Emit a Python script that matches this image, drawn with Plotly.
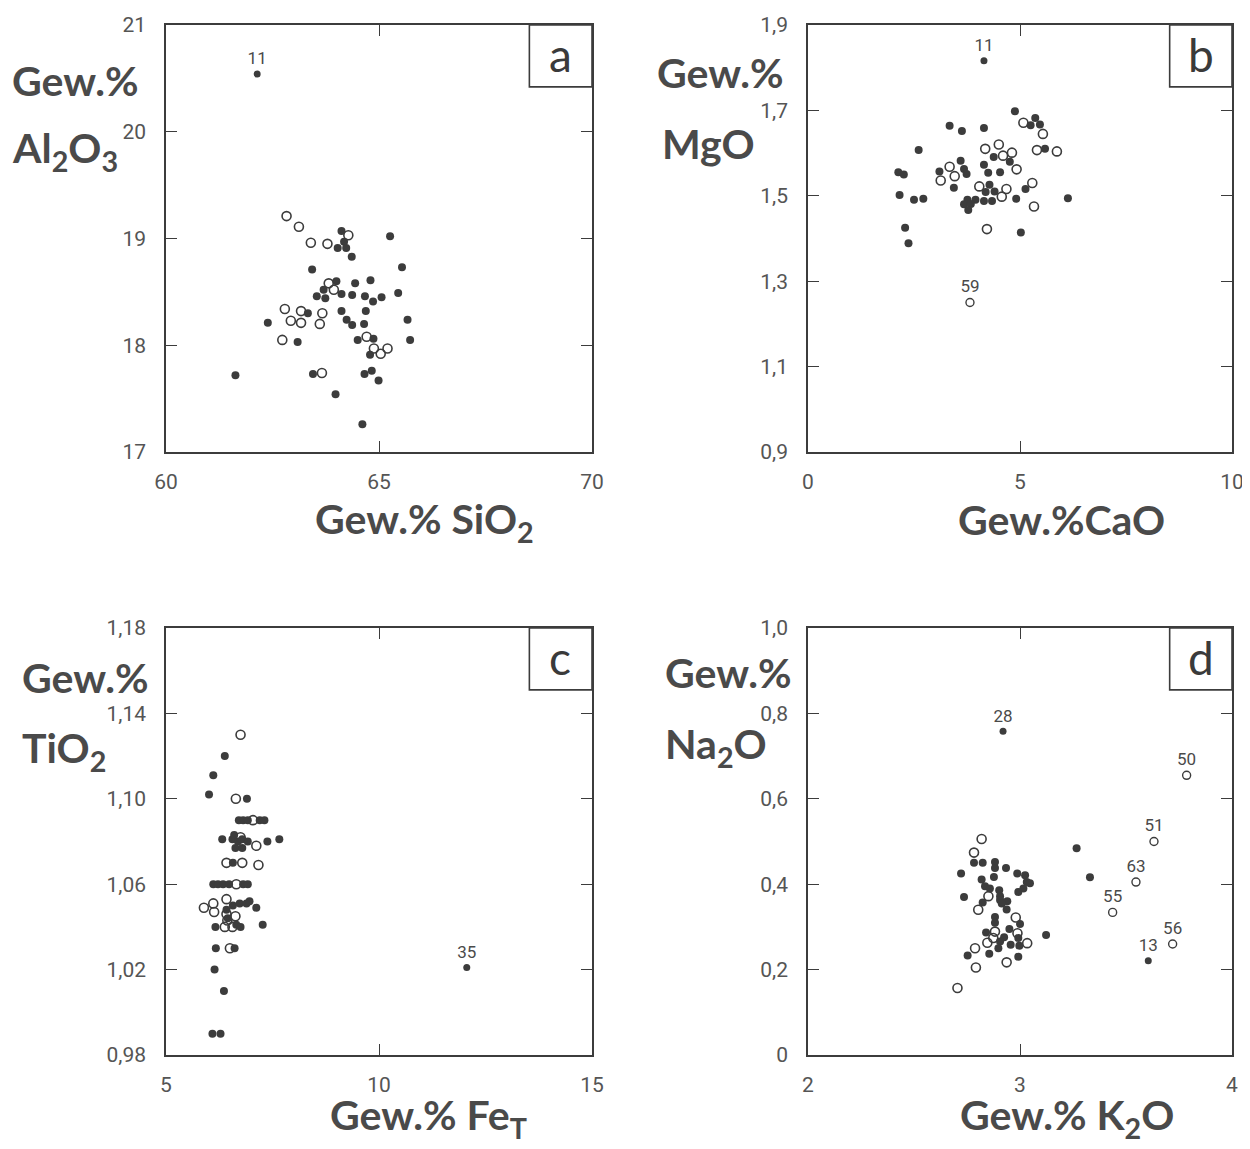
import plotly.graph_objects as go

# ---------------- data ----------------
# Panel a: SiO2 (x) vs Al2O3 (y)
a_fill_x = [64.12, 64.18, 64.03, 64.23, 64.36, 65.26, 65.54, 63.43, 64.00, 64.44, 64.80, 63.70, 63.54, 63.74,
            64.12, 64.37, 64.67, 64.86, 65.06, 65.45, 63.33, 64.12, 64.69, 64.24, 64.37, 64.65, 65.67, 62.39,
            63.09, 64.50, 64.87, 65.73, 64.79, 63.45, 64.66, 64.83, 64.99, 61.63, 63.98, 64.61]
a_fill_y = [19.07, 18.97, 18.91, 18.91, 18.83, 19.02, 18.73, 18.71, 18.60, 18.58, 18.61, 18.52, 18.46, 18.44,
            18.48, 18.47, 18.46, 18.41, 18.45, 18.49, 18.30, 18.32, 18.32, 18.24, 18.19, 18.20, 18.24, 18.21,
            18.03, 18.05, 18.06, 18.05, 17.91, 17.73, 17.73, 17.76, 17.67, 17.72, 17.54, 17.26]
a_open_x = [62.83, 63.12, 63.40, 63.79, 64.28, 63.82, 63.94, 62.79, 63.17, 63.67, 62.93, 63.17, 63.61, 62.73,
            64.71, 64.88, 65.04, 65.20, 63.66]
a_open_y = [19.21, 19.11, 18.96, 18.95, 19.03, 18.58, 18.52, 18.34, 18.32, 18.30, 18.23, 18.21, 18.20, 18.05,
            18.08, 17.97, 17.92, 17.97, 17.74]
a_lab_x = [62.14]
a_lab_y = [20.54]
a_lab_t = ["11"]
a_lab_open = [False]

# Panel b: CaO (x) vs MgO (y)
b_fill_x = [4.88, 5.36, 5.25, 5.47, 3.34, 3.63, 4.15, 5.59, 2.61, 4.38, 4.76, 3.60, 4.15, 3.68, 3.74, 4.25,
            4.53, 3.10, 2.13, 2.26, 3.44, 4.28, 4.19, 4.40, 5.13, 2.16, 2.50, 2.72, 3.76, 3.95, 3.68, 3.84,
            3.78, 4.15, 4.34, 4.91, 6.13, 2.29, 2.37, 5.02]
b_fill_y = [1.698, 1.682, 1.665, 1.667, 1.664, 1.652, 1.659, 1.610, 1.607, 1.591, 1.580, 1.582, 1.573, 1.563,
            1.551, 1.554, 1.555, 1.557, 1.555, 1.550, 1.519, 1.526, 1.509, 1.510, 1.516, 1.502, 1.491, 1.493,
            1.491, 1.491, 1.480, 1.481, 1.467, 1.488, 1.488, 1.493, 1.494, 1.425, 1.389, 1.414]
b_open_x = [5.08, 5.54, 4.18, 4.50, 4.60, 4.81, 5.40, 5.87, 3.34, 3.46, 3.13, 4.92, 4.04, 4.68, 4.57, 5.29,
            5.33, 4.22]
b_open_y = [1.671, 1.645, 1.610, 1.620, 1.594, 1.601, 1.607, 1.604, 1.568, 1.546, 1.536, 1.562, 1.522, 1.516,
            1.498, 1.530, 1.475, 1.422]
b_lab_x = [4.15, 3.82]
b_lab_y = [1.816, 1.250]
b_lab_t = ["11", "59"]
b_lab_open = [False, True]

# Panel c: Fe_T (x) vs TiO2 (y)
c_fill_x = [6.38, 6.11, 6.01, 6.90, 6.71, 6.81, 6.92, 7.20, 7.31, 6.32, 6.56, 6.69, 6.79, 6.92, 7.38, 7.66,
            6.63, 6.79, 6.60, 6.57, 6.11, 6.22, 6.34, 6.48, 6.81, 6.92, 6.42, 6.57, 6.73, 6.89, 6.96, 7.12,
            6.45, 6.16, 6.65, 6.75, 7.27, 6.17, 6.61, 6.14, 6.36, 6.09, 6.28]
c_fill_y = [1.120, 1.111, 1.102, 1.100, 1.090, 1.090, 1.090, 1.090, 1.090, 1.081, 1.081, 1.080, 1.081, 1.080,
            1.080, 1.081, 1.077, 1.077, 1.083, 1.070, 1.060, 1.060, 1.060, 1.060, 1.060, 1.060, 1.048, 1.050,
            1.051, 1.051, 1.052, 1.049, 1.044, 1.040, 1.041, 1.040, 1.041, 1.030, 1.030, 1.020, 1.010, 0.990,
            0.990]
c_open_x = [6.75, 6.64, 7.04, 6.75, 7.12, 6.42, 6.79, 7.17, 6.65, 5.89, 6.11, 6.13, 6.42, 6.42, 6.44, 6.63,
            6.38, 6.56, 6.50]
c_open_y = [1.130, 1.100, 1.090, 1.082, 1.078, 1.070, 1.070, 1.069, 1.060, 1.049, 1.051, 1.047, 1.053, 1.046,
            1.043, 1.045, 1.040, 1.040, 1.030]
c_lab_x = [12.06]
c_lab_y = [1.021]
c_lab_t = ["35"]
c_lab_open = [False]

# Panel d: K2O (x) vs Na2O (y)
d_fill_x = [2.783, 2.824, 2.882, 2.882, 2.934, 2.722, 2.877, 2.987, 3.024, 2.819, 3.032, 3.047, 2.835, 2.858,
            3.016, 2.902, 2.992, 2.736, 2.906, 2.906, 2.940, 2.824, 2.914, 2.937, 2.882, 2.882, 3.000, 2.950,
            2.840, 2.925, 2.906, 2.992, 2.956, 2.997, 2.898, 2.855, 2.753, 2.992, 3.123, 3.267, 3.330]
d_fill_y = [0.450, 0.450, 0.452, 0.438, 0.438, 0.425, 0.417, 0.425, 0.421, 0.411, 0.405, 0.402, 0.395, 0.390,
            0.390, 0.386, 0.382, 0.370, 0.372, 0.363, 0.360, 0.357, 0.355, 0.341, 0.323, 0.310, 0.307, 0.295,
            0.287, 0.276, 0.266, 0.274, 0.258, 0.256, 0.250, 0.237, 0.233, 0.230, 0.281, 0.484, 0.416]
d_open_x = [2.819, 2.783, 2.851, 2.803, 2.980, 2.882, 2.988, 2.874, 2.846, 3.034, 2.788, 2.792, 2.937, 2.705]
d_open_y = [0.506, 0.474, 0.372, 0.340, 0.322, 0.289, 0.285, 0.274, 0.263, 0.262, 0.250, 0.205, 0.217, 0.157]
d_lab_x = [2.920, 3.786, 3.632, 3.547, 3.437, 3.720, 3.605]
d_lab_y = [0.758, 0.655, 0.500, 0.405, 0.334, 0.260, 0.221]
d_lab_t = ["28", "50", "51", "63", "55", "56", "13"]
d_lab_open = [False, True, True, True, True, True, False]

# axis ticks
a_xt = [60, 65, 70]; a_xl = ["60", "65", "70"]
a_yt = [17, 18, 19, 20, 21]; a_yl = ["17", "18", "19", "20", "21"]
b_xt = [0, 5, 10]; b_xl = ["0", "5", "10"]
b_yt = [0.9, 1.1, 1.3, 1.5, 1.7, 1.9]; b_yl = ["0,9", "1,1", "1,3", "1,5", "1,7", "1,9"]
c_xt = [5, 10, 15]; c_xl = ["5", "10", "15"]
c_yt = [0.98, 1.02, 1.06, 1.10, 1.14, 1.18]; c_yl = ["0,98", "1,02", "1,06", "1,10", "1,14", "1,18"]
d_xt = [2, 3, 4]; d_xl = ["2", "3", "4"]
d_yt = [0, 0.2, 0.4, 0.6, 0.8, 1.0]; d_yl = ["0", "0,2", "0,4", "0,6", "0,8", "1,0"]

panel_letters = ["a", "b", "c", "d"]
x_titles = ["Gew.% SiO<sub>2</sub>", "Gew.%CaO", "Gew.% Fe<sub>T</sub>", "Gew.% K<sub>2</sub>O"]
y_titles = ["Al<sub>2</sub>O<sub>3</sub>", "MgO", "TiO<sub>2</sub>", "Na<sub>2</sub>O"]

# ---------------- layout helpers ----------------
OFF = 8  # page body margin
W, H = 1250 - 2 * OFF, 1149 - 2 * OFF
def px(x): return (x - OFF) / W
def py(y): return 1 - (y - OFF) / H

INK = "#3c3c3c"
TICKFONT = dict(family="Roboto, DejaVu Sans", size=21, color="#555555")
TITLEFONT = dict(family="Lato, Open Sans, DejaVu Sans", size=41, color="#4a4a4a", weight="bold")

fig = go.Figure()

panels = [
    dict(fx=a_fill_x, fy=a_fill_y, ox=a_open_x, oy=a_open_y, lx=a_lab_x, ly=a_lab_y, lt=a_lab_t, lo=a_lab_open,
         xr=[60, 70], yr=[17, 21], xt=a_xt, xl=a_xl, yt=a_yt, yl=a_yl,
         dom_x=(166, 592), dom_y=(25, 452)),
    dict(fx=b_fill_x, fy=b_fill_y, ox=b_open_x, oy=b_open_y, lx=b_lab_x, ly=b_lab_y, lt=b_lab_t, lo=b_lab_open,
         xr=[0, 10], yr=[0.9, 1.9], xt=b_xt, xl=b_xl, yt=b_yt, yl=b_yl,
         dom_x=(808, 1232), dom_y=(25, 452)),
    dict(fx=c_fill_x, fy=c_fill_y, ox=c_open_x, oy=c_open_y, lx=c_lab_x, ly=c_lab_y, lt=c_lab_t, lo=c_lab_open,
         xr=[5, 15], yr=[0.98, 1.18], xt=c_xt, xl=c_xl, yt=c_yt, yl=c_yl,
         dom_x=(166, 592), dom_y=(628, 1055)),
    dict(fx=d_fill_x, fy=d_fill_y, ox=d_open_x, oy=d_open_y, lx=d_lab_x, ly=d_lab_y, lt=d_lab_t, lo=d_lab_open,
         xr=[2, 4], yr=[0, 1.0], xt=d_xt, xl=d_xl, yt=d_yt, yl=d_yl,
         dom_x=(808, 1232), dom_y=(628, 1055)),
]

layout_axes = {}
shapes = []
annotations = []

for i, p in enumerate(panels):
    n = "" if i == 0 else str(i + 1)
    xa, ya = "x" + n, "y" + n
    fig.add_trace(go.Scatter(x=p["fx"], y=p["fy"], mode="markers", xaxis=xa, yaxis=ya,
                             marker=dict(size=8, color=INK), showlegend=False))
    fig.add_trace(go.Scatter(x=p["ox"], y=p["oy"], mode="markers", xaxis=xa, yaxis=ya,
                             marker=dict(size=9, symbol="circle-open", color=INK, line=dict(width=1.6, color=INK)),
                             showlegend=False))
    lfx = [x for x, o in zip(p["lx"], p["lo"]) if not o]
    lfy = [y for y, o in zip(p["ly"], p["lo"]) if not o]
    lft = [t for t, o in zip(p["lt"], p["lo"]) if not o]
    lox = [x for x, o in zip(p["lx"], p["lo"]) if o]
    loy = [y for y, o in zip(p["ly"], p["lo"]) if o]
    lot = [t for t, o in zip(p["lt"], p["lo"]) if o]
    textfont = dict(family="Roboto, DejaVu Sans", size=17, color="#4a4a4a")
    if lfx:
        fig.add_trace(go.Scatter(x=lfx, y=lfy, text=lft, mode="markers+text", textposition="top center",
                                 xaxis=xa, yaxis=ya, textfont=textfont,
                                 marker=dict(size=7, color=INK), showlegend=False))
    if lox:
        fig.add_trace(go.Scatter(x=lox, y=loy, text=lot, mode="markers+text", textposition="top center",
                                 xaxis=xa, yaxis=ya, textfont=textfont,
                                 marker=dict(size=8, symbol="circle-open", color=INK,
                                             line=dict(width=1.4, color=INK)), showlegend=False))

    common = dict(showgrid=False, zeroline=False, showline=True, linecolor=INK, linewidth=1.6,
                  mirror="ticks", ticks="inside", ticklen=11, tickwidth=1.4, tickcolor=INK,
                  tickfont=TICKFONT, ticklabeloverflow="allow")
    layout_axes["xaxis" + n] = dict(common, domain=[px(p["dom_x"][0]), px(p["dom_x"][1])], range=p["xr"],
                                    tickvals=p["xt"], ticktext=p["xl"], anchor=ya, ticklabelstandoff=10)
    layout_axes["yaxis" + n] = dict(common, domain=[py(p["dom_y"][1]), py(p["dom_y"][0])], range=p["yr"],
                                    tickvals=p["yt"], ticktext=p["yl"], anchor=xa, ticklabelstandoff=14)

    # panel letter box in top-right corner
    shapes.append(dict(type="rect", xref=xa + " domain", yref=ya + " domain", x0=0.853, x1=1.0, y0=0.855, y1=1.0,
                       line=dict(color=INK, width=1.6), fillcolor="white", layer="above"))
    annotations.append(dict(xref=xa + " domain", yref=ya + " domain", x=0.926, y=0.93, text=panel_letters[i],
                            showarrow=False, xanchor="center", yanchor="middle",
                            font=dict(family="Lato, Open Sans, DejaVu Sans", size=46, color="#3a3a3a")))

# axis titles (pixel-placed in paper coordinates)
ytitle_pos = [(10, 80, 10, 150), (655, 73, 660, 143), (20, 677, 20, 750), (663, 672, 663, 746)]
xtitle_pos = [(313, 522), (956, 520), (328, 1117), (958, 1117)]
for i in range(4):
    gx, gy, tx, ty = ytitle_pos[i]
    annotations.append(dict(xref="paper", yref="paper", x=px(gx), y=py(gy), text="Gew.%",
                            showarrow=False, xanchor="left", yanchor="middle", font=TITLEFONT))
    annotations.append(dict(xref="paper", yref="paper", x=px(tx), y=py(ty), text=y_titles[i],
                            showarrow=False, xanchor="left", yanchor="middle", font=TITLEFONT))
    xx, xy = xtitle_pos[i]
    annotations.append(dict(xref="paper", yref="paper", x=px(xx), y=py(xy), text=x_titles[i],
                            showarrow=False, xanchor="left", yanchor="middle", font=TITLEFONT))

fig.update_layout(width=W, height=H, margin=dict(l=0, r=0, t=0, b=0, autoexpand=False),
                  paper_bgcolor="white", plot_bgcolor="white",
                  shapes=shapes, annotations=annotations, **layout_axes)

fig.write_html("out.html")
